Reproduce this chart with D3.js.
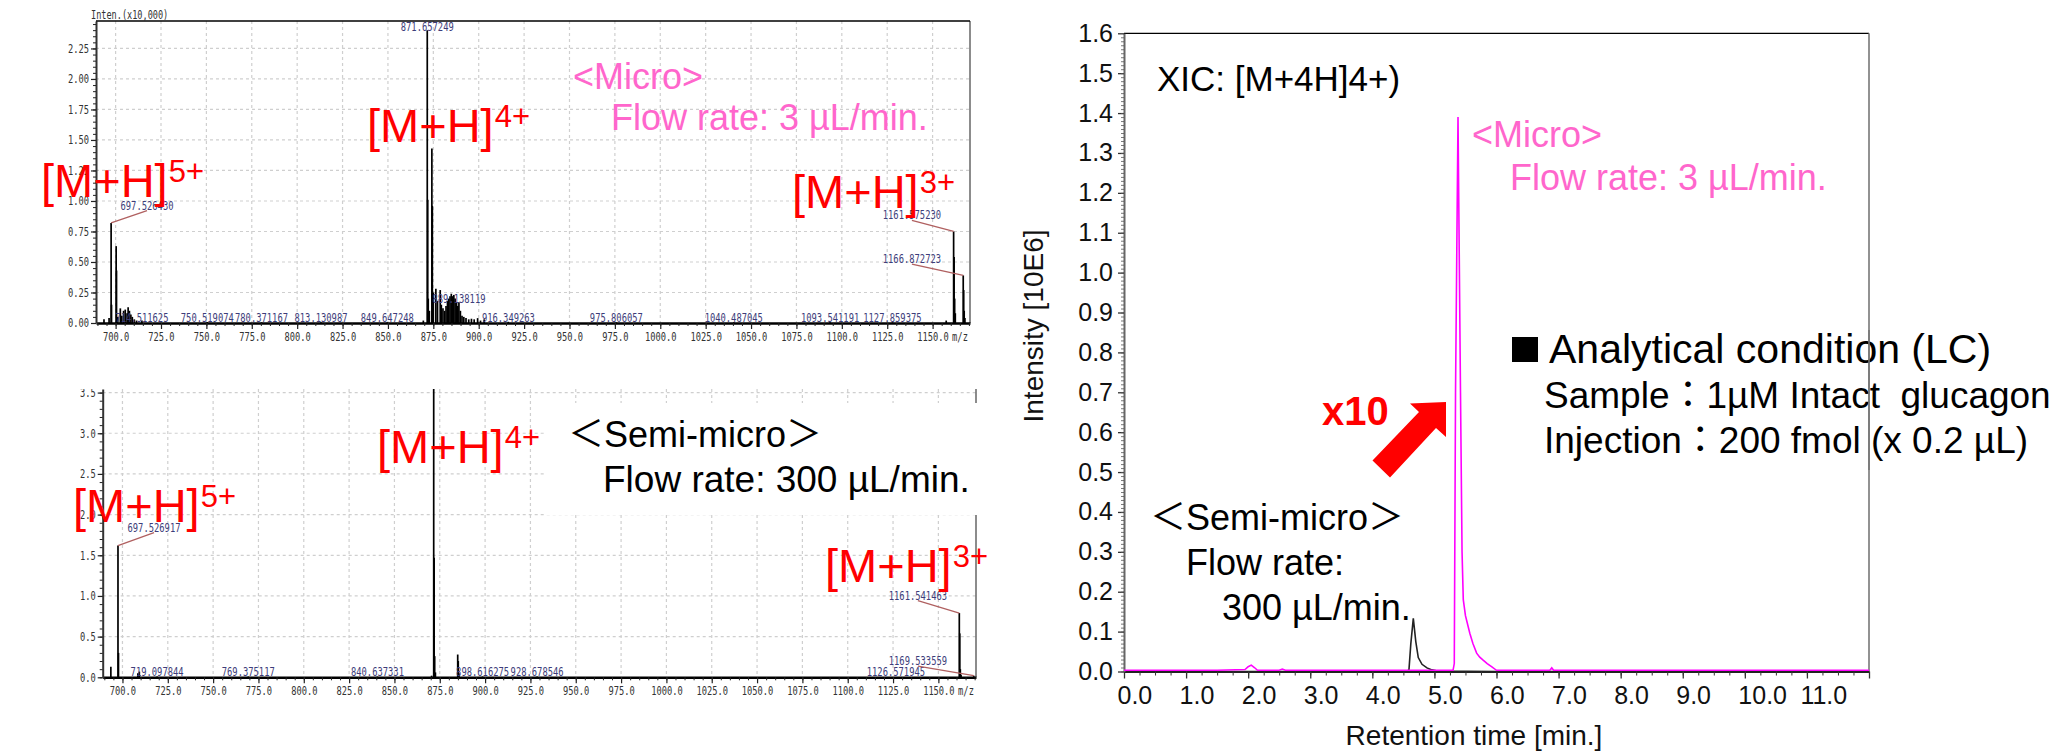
<!DOCTYPE html>
<html><head><meta charset="utf-8">
<script src="https://cdn.jsdelivr.net/npm/d3@7"></script>
<style>
html,body{margin:0;padding:0;background:#fff;}
svg{display:block;}
</style></head><body>
<svg id="c" width="2052" height="753"></svg>
<script>
// ================= DATA =================
// mass spectra: ticks
const msTicksX = [700,725,750,775,800,825,850,875,900,925,950,975,1000,1025,1050,1075,1100,1125,1150];
const topTicksY = [0,0.25,0.5,0.75,1,1.25,1.5,1.75,2,2.25];
const botTicksY = [0,0.5,1,1.5,2,2.5,3,3.5];

// top spectrum (Micro), intensity x10,000
const topMz = [693.6,696.4,697.53,697.75,700.3,700.5,701.2,702.6,703.4,704.4,
  705.3,706.3,706.9,707.6,708.4,709.2,710.3,711.5,714.5,750.5,
  780.4,813.1,849.6,869.5,871.66,871.9,872.2,872.8,874.2,874.45,
  875.0,876.4,877.3,878.8,879.4,880.3,881.2,882.0,882.8,883.5,
  884.2,884.9,885.6,886.3,887.0,887.8,888.5,889.1,889.9,890.8,
  891.8,893.0,894.5,896.0,897.5,899.4,901.0,903.0,916.3,975.8,
  1040.5,1093.5,1127.9,1157.5,1161.58,1161.85,1162.15,1162.5,1166.87,1167.12,
  1167.4,1167.8];
const topInt = [0.03,0.04,0.82,0.15,0.63,0.43,0.05,0.12,0.06,0.10,
  0.11,0.08,0.13,0.10,0.07,0.05,0.03,0.02,0.02,0.008,
  0.006,0.006,0.006,0.02,2.40,1.01,0.20,0.10,1.43,0.96,
  0.25,0.28,0.18,0.27,0.15,0.12,0.10,0.14,0.18,0.20,
  0.22,0.24,0.22,0.23,0.20,0.17,0.14,0.17,0.10,0.06,
  0.05,0.04,0.03,0.035,0.03,0.04,0.02,0.03,0.01,0.006,
  0.006,0.006,0.006,0.02,0.75,0.54,0.20,0.08,0.39,0.27,
  0.10,0.04];
const topLabels = ["714.511625","750.519074","780.371167","813.130987","849.647248","871.657249",
  "889.138119","916.349263","975.806057","1040.487045","1093.541191","1127.859375"];
const topLabelInt = [0.02,0.008,0.006,0.006,0.006,2.40,0.17,0.01,0.006,0.006,0.006,0.006];
const topCallouts = ["697.526430","1161.575230","1166.872723"];
const topCalloutPeak = [0.82,0.75,0.39];
const topCalloutMz = [717.3,1138.6,1138.6];
const topCalloutInt = [0.93,0.85,0.49];

// bottom spectrum (Semi-micro)
const botMz = [693.6,697.53,697.8,708.5,709.3,719.1,769.4,840.6,870.5,871.66,
  871.9,872.2,872.6,884.9,885.2,885.6,898.6,928.7,1126.6,1161.54,
  1161.8,1162.1,1162.5,1169.5];
const botInt = [0.13,1.62,0.30,0.05,0.07,0.01,0.01,0.01,0.02,3.9,
  1.47,0.26,0.06,0.28,0.20,0.05,0.01,0.01,0.005,0.79,
  0.54,0.10,0.03,0.02];
const botLabels = ["719.097844","769.375117","840.637331","898.616275","928.678546","1126.571945"];
const botLabelInt = [0.01,0.01,0.01,0.01,0.01,0.005];
const botCallouts = ["697.526917","1161.541463","1169.533559"];
const botCalloutPeak = [1.62,0.79,0.02];
const botCalloutMz = [717.4,1138.7,1138.7];
const botCalloutInt = [1.79,0.956,0.15];

// XIC chromatogram
const xicTicksX = [0,1,2,3,4,5,6,7,8,9,10,11];
const xicTicksY = [0,0.1,0.2,0.3,0.4,0.5,0.6,0.7,0.8,0.9,1.0,1.1,1.2,1.3,1.4,1.5,1.6];
const microTime = [0,0.8,1.5,1.95,2.0,2.05,2.1,2.15,2.5,2.55,
  2.6,4.0,5.0,5.30,5.32,5.34,5.38,5.42,5.445,5.465,
  5.5,5.57,5.62,5.68,5.73,5.78,5.85,5.92,6.0,6.5,
  6.86,6.89,6.92,8,10,12];
const microInt = [0.003,0.003,0.003,0.005,0.012,0.016,0.010,0.003,0.003,0.006,
  0.003,0.003,0.003,0.003,0.02,0.7,1.39,0.7,0.30,0.18,
  0.14,0.096,0.07,0.046,0.036,0.029,0.02,0.012,0.003,0.003,
  0.003,0.009,0.003,0.003,0.003,0.003];
const semiTime = [0,2,4,4.55,4.59,4.62,4.66,4.70,4.74,4.80,4.88,4.96,5.05,6,8,12];
const semiInt  = [0,0,0,0,0.004,0.07,0.133,0.075,0.035,0.018,0.009,0.004,0.001,0,0,0];

// ================= DRAWING =================
const svg = d3.select("#c");
const SANS = "'Liberation Sans', Arial, 'Noto Sans CJK JP', sans-serif";
const MONO = "'DejaVu Sans Mono', 'Liberation Mono', monospace";

function mono(sel, per) {
  sel.attr("font-family", MONO).attr("font-size", 12)
     .attr("lengthAdjust", "spacingAndGlyphs")
     .attr("textLength", function(){ return this.textContent.length * per; });
}

function drawSpectrum(g, o) {
  const {x, y, mz, inten, yTicks, yFmt, top, labels, labelInt, callouts, cPeak, cMz, cInt} = o;
  const x0 = x.range()[0], x1 = x.range()[1], y0 = y(0);
  g.append("g").selectAll("line").data(msTicksX).join("line")
    .attr("x1", d => x(d)).attr("x2", d => x(d)).attr("y1", top).attr("y2", y0)
    .attr("stroke", "#cfcfcf").attr("stroke-dasharray", "3,3").attr("stroke-width", 1.2);
  g.append("g").selectAll("line").data(yTicks.filter(d => d > 0)).join("line")
    .attr("x1", x0).attr("x2", x1).attr("y1", d => y(d)).attr("y2", d => y(d))
    .attr("stroke", "#cfcfcf").attr("stroke-dasharray", "3,3").attr("stroke-width", 1.2);
  g.append("g").selectAll("line").data(mz).join("line")
    .attr("x1", d => x(d)).attr("x2", d => x(d)).attr("y1", y0)
    .attr("y2", (d, i) => Math.max(top, y(inten[i])))
    .attr("stroke", "#000").attr("stroke-width", 1.7);
  g.append("line").attr("x1", x1).attr("x2", x1).attr("y1", top).attr("y2", y0)
    .attr("stroke", "#666").attr("stroke-width", 1.5);
  const xa = g.append("g").attr("transform", `translate(0,${y0})`)
    .call(d3.axisBottom(x).tickValues(msTicksX).tickFormat(d3.format(".1f")).tickSize(6).tickPadding(3).tickSizeOuter(0));
  xa.select(".domain").attr("stroke", "#000").attr("stroke-width", 2.5);
  xa.selectAll(".tick line").attr("stroke", "#222").attr("stroke-width", 1.2);
  xa.selectAll("text").attr("fill", "#333").call(mono, 5.25);
  const xm = g.append("g").attr("transform", `translate(0,${y0})`)
    .call(d3.axisBottom(x).tickValues(d3.range(690, 1171, 5)).tickSize(3).tickFormat("").tickSizeOuter(0));
  xm.select(".domain").remove();
  xm.selectAll(".tick line").attr("stroke", "#222");
  const ya = g.append("g").attr("transform", `translate(${x0},0)`)
    .call(d3.axisLeft(y).tickValues(yTicks).tickFormat(yFmt).tickSize(5).tickPadding(2).tickSizeOuter(0));
  ya.select(".domain").attr("stroke", "#333").attr("stroke-width", 2);
  ya.selectAll(".tick line").attr("stroke", "#222").attr("stroke-width", 1.2);
  ya.selectAll("text").attr("fill", "#333").call(mono, 5.25);
  const step = yTicks[1] / 5;
  const ym = g.append("g").attr("transform", `translate(${x0},0)`)
    .call(d3.axisLeft(y).tickValues(d3.range(0, y.domain()[1], step)).tickSize(3).tickFormat("").tickSizeOuter(0));
  ym.select(".domain").remove();
  ym.selectAll(".tick line").attr("stroke", "#222");
  g.append("text").attr("x", x1 - 10).attr("y", y0 + 17.5).attr("text-anchor", "middle")
    .attr("fill", "#333").text("m/z").call(mono, 5.3);
  g.append("g").selectAll("text").data(labels).join("text")
    .attr("x", d => x(parseFloat(d))).attr("y", (d, i) => Math.min(y(labelInt[i]) + 1, y0 - 1.5))
    .attr("text-anchor", "middle").attr("fill", "#3d3d7a").text(d => d).call(mono, 5.3);
  g.append("g").selectAll("line").data(callouts).join("line")
    .attr("x1", d => x(parseFloat(d))).attr("y1", (d, i) => y(cPeak[i]))
    .attr("x2", (d, i) => x(cMz[i])).attr("y2", (d, i) => y(cInt[i]) + 1)
    .attr("stroke", "#b06060").attr("stroke-width", 1.3);
  g.append("g").selectAll("text").data(callouts).join("text")
    .attr("x", (d, i) => x(cMz[i])).attr("y", (d, i) => y(cInt[i]))
    .attr("text-anchor", "middle").attr("fill", "#3d3d7a").text(d => d).call(mono, 5.3);
}

function ion(x, y, charge) {
  const t = svg.append("text").attr("x", x).attr("y", y).attr("font-family", SANS)
    .attr("font-size", 47).attr("fill", "#ff0000").text("[M+H]");
  const w = t.node().getComputedTextLength();
  svg.append("text").attr("x", x + w + 1).attr("y", y - 15).attr("font-family", SANS)
    .attr("font-size", 31).attr("fill", "#ff0000").text(charge);
}

// ---- top spectrum ----
const xTop = d3.scaleLinear().domain([689.2, 1170.6]).range([96, 970]);
const yTop = d3.scaleLinear().domain([0, 2.475]).range([323, 21]);
const gTop = svg.append("g");
drawSpectrum(gTop, {x: xTop, y: yTop, mz: topMz, inten: topInt, yTicks: topTicksY,
  yFmt: d3.format(".2f"), top: 21, labels: topLabels, labelInt: topLabelInt,
  callouts: topCallouts, cPeak: topCalloutPeak, cMz: topCalloutMz, cInt: topCalloutInt});
gTop.append("line").attr("x1", 96).attr("x2", 970).attr("y1", 21).attr("y2", 21)
  .attr("stroke", "#000").attr("stroke-width", 1.5);
gTop.append("text").attr("x", 91).attr("y", 19).attr("fill", "#333")
  .text("Inten.(x10,000)").call(mono, 5.15);

// ---- bottom spectrum ----
svg.append("clipPath").attr("id", "clipB").append("rect")
  .attr("x", 0).attr("y", 389).attr("width", 1010).attr("height", 364);
const xBot = d3.scaleLinear().domain([689.1, 1170.75]).range([102.7, 976]);
const yBot = d3.scaleLinear().domain([0, 3.544]).range([677.3, 389]);
const gBot = svg.append("g").attr("clip-path", "url(#clipB)");
drawSpectrum(gBot, {x: xBot, y: yBot, mz: botMz, inten: botInt, yTicks: botTicksY,
  yFmt: d3.format(".1f"), top: 389, labels: botLabels, labelInt: botLabelInt,
  callouts: botCallouts, cPeak: botCalloutPeak, cMz: botCalloutMz, cInt: botCalloutInt});
svg.append("rect").attr("x", 545).attr("y", 403).attr("width", 437).attr("height", 112).attr("fill", "#fff");

// texts left panels
svg.append("text").attr("x", 573).attr("y", 89).attr("font-family", SANS).attr("font-size", 36)
  .attr("fill", "#ff66cc").text("<Micro>");
svg.append("text").attr("x", 611).attr("y", 130).attr("font-family", SANS).attr("font-size", 36)
  .attr("fill", "#ff66cc").text("Flow rate: 3 µL/min.");
svg.append("text").attr("x", 568).attr("y", 447).attr("font-family", SANS).attr("font-size", 36)
  .attr("fill", "#000").text("＜Semi-micro＞");
svg.append("text").attr("x", 603).attr("y", 491.5).attr("font-family", SANS).attr("font-size", 37)
  .attr("fill", "#000").text("Flow rate: 300 µL/min.");
ion(41, 196.7, "5+"); ion(367, 141.7, "4+"); ion(792, 208, "3+");
ion(73, 521.7, "5+"); ion(377, 463, "4+"); ion(825, 581.7, "3+");

// ---- XIC ----
const xX = d3.scaleLinear().domain([0, 12]).range([1124, 1869]);
const yX = d3.scaleLinear().domain([0, 1.6]).range([671.5, 33.3]);
const gX = svg.append("g");
gX.append("line").attr("x1", 1124).attr("x2", 1869).attr("y1", 33.3).attr("y2", 33.3)
  .attr("stroke", "#000").attr("stroke-width", 1.2);
gX.append("line").attr("x1", 1869).attr("x2", 1869).attr("y1", 33.3).attr("y2", 671.5)
  .attr("stroke", "#777").attr("stroke-width", 1.6);
const line = d3.line().x(d => xX(d[0])).y(d => yX(d[1]));
gX.append("path").datum(semiTime.map((t, i) => [t, semiInt[i]])).attr("d", line)
  .attr("fill", "none").attr("stroke", "#222").attr("stroke-width", 1.6);
const xxa = gX.append("g").attr("transform", "translate(0,671.5)")
  .call(d3.axisBottom(xX).tickValues([...xicTicksX, 12])
    .tickFormat(d => xicTicksX.includes(d) ? d.toFixed(1) : "").tickSize(7).tickPadding(8).tickSizeOuter(0));
xxa.select(".domain").attr("stroke", "#222").attr("stroke-width", 2.2);
xxa.selectAll(".tick line").attr("stroke", "#333").attr("stroke-width", 1.3);
xxa.selectAll("text").attr("font-family", SANS).attr("font-size", 25).attr("fill", "#111")
  .attr("text-anchor", "start").attr("x", -7);
const xxm = gX.append("g").attr("transform", "translate(0,671.5)")
  .call(d3.axisBottom(xX).tickValues(d3.range(0, 12, 0.25)).tickSize(4).tickFormat("").tickSizeOuter(0));
xxm.select(".domain").remove();
xxm.selectAll(".tick line").attr("stroke", "#333");
const xya = gX.append("g").attr("transform", "translate(1124,0)")
  .call(d3.axisLeft(yX).tickValues(xicTicksY).tickFormat(d3.format(".1f")).tickSize(6).tickPadding(5).tickSizeOuter(0));
xya.select(".domain").attr("stroke", "#666").attr("stroke-width", 2);
xya.selectAll(".tick line").attr("stroke", "#333").attr("stroke-width", 1.3);
xya.selectAll("text").attr("font-family", SANS).attr("font-size", 25).attr("fill", "#111");
const xym = gX.append("g").attr("transform", "translate(1124,0)")
  .call(d3.axisLeft(yX).tickValues(d3.range(0, 1.6, 0.01)).tickSize(3).tickFormat("").tickSizeOuter(0));
xym.select(".domain").remove();
xym.selectAll(".tick line").attr("stroke", "#555").attr("stroke-width", 0.8);
gX.append("path").datum(microTime.map((t, i) => [t, microInt[i]])).attr("d", line)
  .attr("fill", "none").attr("stroke", "#ff00ff").attr("stroke-width", 1.6);
svg.append("text").attr("transform", "translate(1043,326) rotate(-90)").attr("text-anchor", "middle")
  .attr("font-family", SANS).attr("font-size", 28).attr("fill", "#111").text("Intensity [10E6]");
svg.append("text").attr("x", 1474).attr("y", 745).attr("text-anchor", "middle")
  .attr("font-family", SANS).attr("font-size", 28).attr("fill", "#111").text("Retention time [min.]");
svg.append("text").attr("x", 1157).attr("y", 90.5).attr("font-family", SANS).attr("font-size", 35)
  .attr("fill", "#000").text("XIC: [M+4H]4+)");
svg.append("text").attr("x", 1472).attr("y", 147).attr("font-family", SANS).attr("font-size", 36)
  .attr("fill", "#ff66cc").text("<Micro>");
svg.append("text").attr("x", 1510).attr("y", 190).attr("font-family", SANS).attr("font-size", 36)
  .attr("fill", "#ff66cc").text("Flow rate: 3 µL/min.");
svg.append("text").attr("x", 1322).attr("y", 425).attr("font-family", SANS).attr("font-size", 40)
  .attr("font-weight", "bold").attr("fill", "#ff0000").text("x10");
svg.append("polygon")
  .attr("points", [[1446,402],[1410,403.5],[1419,412],[1372.5,460.5],[1390,477.5],[1436,428],[1446,437]].map(p => p.join(",")).join(" "))
  .attr("fill", "#ff0000");
svg.append("text").attr("x", 1150).attr("y", 530).attr("font-family", SANS).attr("font-size", 36)
  .attr("fill", "#000").text("＜Semi-micro＞");
svg.append("text").attr("x", 1186).attr("y", 575).attr("font-family", SANS).attr("font-size", 36)
  .attr("fill", "#000").text("Flow rate:");
svg.append("text").attr("x", 1222).attr("y", 620).attr("font-family", SANS).attr("font-size", 36)
  .attr("fill", "#000").text("300 µL/min.");
svg.append("rect").attr("x", 1512).attr("y", 337).attr("width", 26).attr("height", 25).attr("fill", "#000");
svg.append("text").attr("x", 1549).attr("y", 363).attr("font-family", SANS).attr("font-size", 41)
  .attr("fill", "#000").text("Analytical condition (LC)");
svg.append("text").attr("x", 1544).attr("y", 408).attr("font-family", SANS).attr("font-size", 37)
  .attr("fill", "#000").style("white-space", "pre").text("Sample：1µM Intact  glucagon");
svg.append("text").attr("x", 1544).attr("y", 453).attr("font-family", SANS).attr("font-size", 37)
  .attr("fill", "#000").text("Injection：200 fmol (x 0.2 µL)");
svg.append("line").attr("x1", 1869).attr("x2", 1869).attr("y1", 330).attr("y2", 470)
  .attr("stroke", "#777").attr("stroke-width", 1.6);
</script>
</body></html>
